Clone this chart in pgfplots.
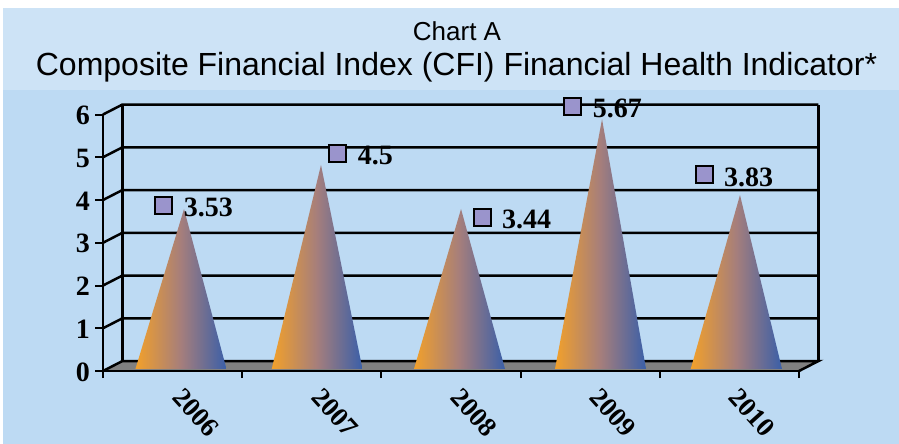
\documentclass[border=0pt]{standalone}
\usepackage{fontspec}
\setmainfont{Liberation Sans}
\newfontfamily\tnr{Liberation Serif}
\usepackage{pgfplots}
\pgfplotsset{compat=1.18}
\definecolor{bandtop}{HTML}{CDE3F6}
\definecolor{bandlow}{HTML}{BDDAF3}
\definecolor{floorgray}{HTML}{808080}
\definecolor{markfill}{HTML}{9A94CC}
\definecolor{coneL}{HTML}{F2A02A}
\definecolor{coneM}{HTML}{A57E7C}
\definecolor{coneR}{HTML}{3A5FA8}
\pgfplotsset{cone/.style={draw=none, left color=coneL, right color=coneR, middle color=coneM}}
\begin{document}
\begin{tikzpicture}[x=1pt,y=1pt]
% page is 899x444 with 1pt = 1px, origin at top left
\fill[white] (0,0) rectangle (899,-444);
\fill[bandlow] (3,-90) rectangle (899,-444);
\fill[bandtop] (3,-8) rectangle (899,-90);
\node[font=\fontsize{26}{28}\selectfont] at (457,-31) {Chart A};
\node[font=\fontsize{32}{34}\selectfont] at (456.5,-67) {Composite Financial Index (CFI) Financial Health Indicator*};
\begin{axis}[
  at={(103pt,-371pt)}, anchor=origin,
  scale only axis, width=696pt, height=256.5pt,
  xmin=0, xmax=5, ymin=0, ymax=6,
  clip=false,
  axis x line*=bottom, axis y line*=left,
  axis line style={line width=2pt, -},
  xtick={0.5,1.5,2.5,3.5,4.5},
  xticklabels={2006,2007,2008,2009,2010},
  minor xtick={0,1,2,3,4,5},
  ytick={0,1,2,3,4,5,6},
  major x tick style={draw=none},
  major y tick style={line width=2pt, black},
  minor x tick style={line width=2pt, black},
  major tick length=8pt, minor tick length=7pt,
  tick align=outside,
  /pgf/number format/assume math mode=true,
  yticklabel style={font=\tnr\bfseries\fontsize{28}{28}\selectfont, inner sep=0pt, xshift=-5pt, yshift=-1pt},
  xticklabel style={font=\tnr\bfseries\fontsize{27}{27}\selectfont, inner sep=0pt, rotate=-48, anchor=center, xshift=40.7pt, yshift=-5.6pt},
]
% floor
\addplot[fill=floorgray, draw=none] coordinates {(0,0) (0.14,0.234) (5.14,0.234) (5,0)} -- cycle;
% back wall grid and depth lines
\addplot[black, line width=2.5pt] coordinates {(0,0) (0.14,0.234) (5.14,0.234) (5,0)};
\addplot[black, line width=2.5pt] coordinates {(0,1) (0.14,1.234) (5.14,1.234)};
\addplot[black, line width=2.5pt] coordinates {(0,2) (0.14,2.234) (5.14,2.234)};
\addplot[black, line width=2.5pt] coordinates {(0,3) (0.14,3.234) (5.14,3.234)};
\addplot[black, line width=2.5pt] coordinates {(0,4) (0.14,4.234) (5.14,4.234)};
\addplot[black, line width=2.5pt] coordinates {(0,5) (0.14,5.234) (5.14,5.234)};
\addplot[black, line width=2.5pt] coordinates {(0,6) (0.14,6.234) (5.14,6.234)};
\addplot[black, line width=2.5pt] coordinates {(0.14,0.234) (0.14,6.234)};
\addplot[black, line width=2.5pt] coordinates {(5.14,0.234) (5.14,6.234)};
\addplot[black, line width=2pt] coordinates {(0,0) (5,0)};
% cones
\addplot[cone] coordinates {(0.233,0.047) (0.582,3.79) (0.887,0.047)} -- cycle;
\addplot[cone] coordinates {(1.212,0.047) (1.566,4.82) (1.864,0.047)} -- cycle;
\addplot[cone] coordinates {(2.234,0.047) (2.572,3.79) (2.888,0.047)} -- cycle;
\addplot[cone] coordinates {(3.247,0.047) (3.585,5.89) (3.901,0.047)} -- cycle;
\addplot[cone] coordinates {(4.222,0.047) (4.576,4.117) (4.878,0.047)} -- cycle;
% value markers and labels
\addplot[only marks, mark=square*, mark size=8.5pt,
  mark options={fill=markfill, draw=black, line width=2pt},
  point meta=explicit symbolic, nodes near coords,
  every node near coord/.append style={font=\tnr\bfseries\fontsize{28}{28}\selectfont,
    anchor=west, inner sep=0pt, xshift=19pt, yshift=-2pt, text=black}]
  coordinates {(0.438,3.88)[3.53] (1.688,5.08)[4.5] (2.723,3.60)[3.44] (3.376,6.18)[5.67] (4.318,4.585)[3.83]};
\end{axis}
\end{tikzpicture}
\end{document}
